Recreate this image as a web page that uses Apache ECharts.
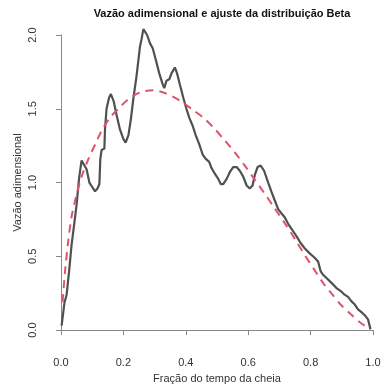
<!DOCTYPE html>
<html>
<head>
<meta charset="utf-8">
<script src="https://cdn.jsdelivr.net/npm/echarts@6/dist/echarts.min.js"></script>
<style>
  html, body { margin: 0; padding: 0; background: #fff; }
  #chart { width: 390px; height: 389px; }
</style>
</head>
<body>
<div id="chart"></div>
<script>
// vazão observada (linha preta)
var obsX = [0.002,0.011,0.018,0.026,0.034,0.043,0.050,0.058,0.066,0.072,0.082,0.091,0.100,0.109,0.117,0.123,0.126,0.130,0.139,0.141,0.146,0.154,0.160,0.169,0.178,0.189,0.200,0.207,0.216,0.224,0.232,0.242,0.253,0.258,0.264,0.269,0.276,0.285,0.294,0.304,0.315,0.326,0.331,0.338,0.347,0.354,0.365,0.372,0.381,0.392,0.402,0.411,0.422,0.432,0.443,0.454,0.464,0.475,0.482,0.493,0.504,0.512,0.520,0.531,0.541,0.552,0.563,0.573,0.584,0.595,0.605,0.614,0.621,0.630,0.640,0.651,0.664,0.675,0.685,0.696,0.707,0.717,0.728,0.741,0.755,0.768,0.781,0.797,0.813,0.824,0.829,0.832,0.840,0.851,0.867,0.883,0.899,0.909,0.920,0.931,0.941,0.952,0.965,0.976,0.984,0.989,0.992];
var obsY = [0.03,0.185,0.24,0.40,0.58,0.73,0.85,1.03,1.15,1.155,1.09,1.00,0.97,0.94,0.96,0.99,1.16,1.22,1.23,1.36,1.50,1.575,1.60,1.55,1.46,1.36,1.295,1.27,1.32,1.43,1.57,1.72,1.92,1.97,2.04,2.04,2.00,1.945,1.91,1.83,1.74,1.665,1.64,1.69,1.70,1.74,1.78,1.74,1.665,1.575,1.50,1.44,1.385,1.32,1.26,1.19,1.16,1.14,1.10,1.06,1.025,0.99,0.99,1.025,1.07,1.105,1.105,1.08,1.04,0.98,0.96,0.98,1.05,1.105,1.115,1.08,1.00,0.935,0.88,0.82,0.79,0.765,0.72,0.68,0.635,0.59,0.555,0.52,0.49,0.465,0.455,0.40,0.375,0.353,0.32,0.285,0.26,0.24,0.225,0.195,0.175,0.14,0.118,0.095,0.073,0.062,0.005];

// ajuste Beta (linha tracejada)
var betaX = [0.005,0.013,0.023,0.034,0.05,0.066,0.088,0.11,0.13,0.157,0.184,0.21,0.237,0.264,0.296,0.328,0.36,0.392,0.424,0.456,0.49,0.525,0.557,0.589,0.621,0.653,0.685,0.717,0.749,0.781,0.81,0.84,0.87,0.9,0.93,0.96,0.99];
var betaY = [0.19,0.40,0.60,0.77,0.92,1.04,1.16,1.26,1.35,1.44,1.50,1.555,1.595,1.618,1.625,1.61,1.58,1.54,1.49,1.44,1.37,1.285,1.205,1.115,1.02,0.925,0.825,0.725,0.62,0.51,0.415,0.32,0.24,0.165,0.105,0.05,0.008];

var xTicks = [0, 0.2, 0.4, 0.6, 0.8, 1.0];
var yTicks = [0, 0.5, 1.0, 1.5, 2.0];

function pairs(xs, ys) {
    var out = [];
    for (var i = 0; i < xs.length; i++) out.push([xs[i], ys[i]]);
    return out;
}

var font = '"Liberation Sans", Arial, sans-serif';
var chart = echarts.init(document.getElementById('chart'));
chart.setOption({
    animation: false,
    title: {
        text: 'Vazão adimensional e ajuste da distribuição Beta',
        left: 217, top: 3, textAlign: 'center',
        textStyle: { fontFamily: font, fontSize: 11, fontWeight: 'bold', color: '#111' }
    },
    grid: { left: 61, right: 17, top: 35, bottom: 57 },
    xAxis: {
        type: 'value', min: 0, max: 1, interval: 0.2, offset: 12,
        name: 'Fração do tempo da cheia', nameLocation: 'middle', nameGap: 21,
        nameTextStyle: { fontFamily: font, fontSize: 11, color: '#333' },
        axisLine: { show: true, lineStyle: { color: '#888', width: 1 } },
        axisTick: { show: true, length: 5, lineStyle: { color: '#888' } },
        axisLabel: { fontFamily: font, fontSize: 11, color: '#333', margin: 15,
            formatter: function (v) { return xTicks.indexOf(+v.toFixed(1)) >= 0 ? v.toFixed(1) : ''; } },
        splitLine: { show: false }
    },
    yAxis: {
        type: 'value', min: 0, max: 2, interval: 0.5, offset: 10,
        name: 'Vazão adimensional', nameLocation: 'middle', nameGap: 28,
        nameMoveOverlap: false,
        nameTextStyle: { fontFamily: font, fontSize: 11, color: '#333' },
        axisLine: { show: true, lineStyle: { color: '#888', width: 1 } },
        axisTick: { show: true, length: 5, lineStyle: { color: '#888' } },
        axisLabel: { fontFamily: font, fontSize: 11, color: '#333', rotate: 90, margin: 13,
            formatter: function (v) { return yTicks.indexOf(+v.toFixed(1)) >= 0 ? v.toFixed(1) : ''; } },
        splitLine: { show: false }
    },
    series: [
        {
            name: 'Observada', type: 'line', data: pairs(obsX, obsY),
            showSymbol: false, symbol: 'none', clip: false,
            lineStyle: { color: '#505050', width: 2.2 }
        },
        {
            name: 'Beta', type: 'line', data: pairs(betaX, betaY),
            showSymbol: false, symbol: 'none', smooth: 0.3, clip: false,
            lineStyle: { color: '#df536b', width: 2, type: [8, 6] }
        }
    ]
});
</script>
</body>
</html>
